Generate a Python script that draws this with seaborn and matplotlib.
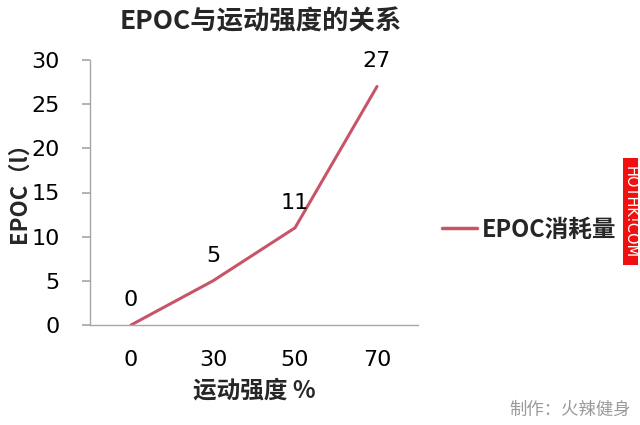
import matplotlib
matplotlib.use("Agg")
import matplotlib.pyplot as plt
import seaborn as sns
import pandas as pd
from matplotlib.patches import Rectangle

categories = ["0", "30", "50", "70"]
epoc_values = [0, 5, 11, 27]
y_ticks = [0, 5, 10, 15, 20, 25, 30]
series_name = "EPOC消耗量"

sns.set_theme(style="white")
plt.rcParams['font.family'] = ['Noto Sans CJK SC', 'DejaVu Sans']

num_font = dict(family=['DejaVu Sans'], size=16)

df = pd.DataFrame({"intensity": categories, "epoc": epoc_values, "series": series_name})

fig = plt.figure(figsize=(6.4, 4.25), dpi=100)
ax = fig.add_axes([90/640, 1-325/425, 328/640, 265/425])

line_color = "#C85468"
sns.lineplot(data=df, x="intensity", y="epoc", hue="series", palette=[line_color],
             linewidth=2.2, ax=ax, sort=False, legend=True)

ax.set_xlim(-0.5, 3.5)
ax.set_ylim(0, 30)
ax.set_yticks(y_ticks)
ax.set_yticklabels([str(t) for t in y_ticks], fontdict=num_font)
ax.set_xticks(range(len(categories)))
ax.set_xticklabels(categories, fontdict=num_font)

for s in ["top", "right"]:
    ax.spines[s].set_visible(False)
for s in ["left", "bottom"]:
    ax.spines[s].set_color("#A8A8A8")
    ax.spines[s].set_linewidth(1.0)

ax.tick_params(axis="y", which="major", left=True, length=6, color="#A8A8A8", pad=16, labelcolor="black")
ax.tick_params(axis="x", which="major", bottom=False, length=0, pad=18, labelcolor="black")

for i, v in enumerate(epoc_values):
    ax.annotate(str(v), (i, v), textcoords="offset points", xytext=(0, 18),
                ha="center", va="center", fontsize=16, family=['DejaVu Sans'], color="black")

ax.set_xlabel("运动强度 %", fontsize=17, fontweight="heavy", labelpad=6)
ax.set_ylabel("EPOC（l）", fontsize=16, fontweight="heavy")
ax.yaxis.set_label_coords((31 - 90) / 328, 0.52)

leg = ax.legend(loc="center left", bbox_to_anchor=(1.0, 0.36), frameon=False,
                handlelength=1.5, handletextpad=0.2, borderaxespad=0.6,
                prop={'size': 17, 'weight': 'heavy'})
for h in leg.get_lines():
    h.set_linewidth(2.5)

fig.text(261/640, 1-22/425, "EPOC与运动强度的关系", ha="center", va="center",
         fontsize=19, fontweight="heavy")

fig.patches.append(Rectangle((623/640, 1-265/425), 15/640, 107/425,
                             transform=fig.transFigure, facecolor="#F01010",
                             edgecolor="none"))
fig.text(630.5/640, 1-212/425, "HOTHK!COM", rotation=-90, ha="center", va="center",
         color="white", fontsize=10.5, family=['DejaVu Sans'])

fig.text(570/640, 1-410/425, "制作：火辣健身", ha="center", va="center",
         fontsize=12.5, color="#9A9A9A")

fig.savefig("out.png", dpi=100, facecolor="white")
